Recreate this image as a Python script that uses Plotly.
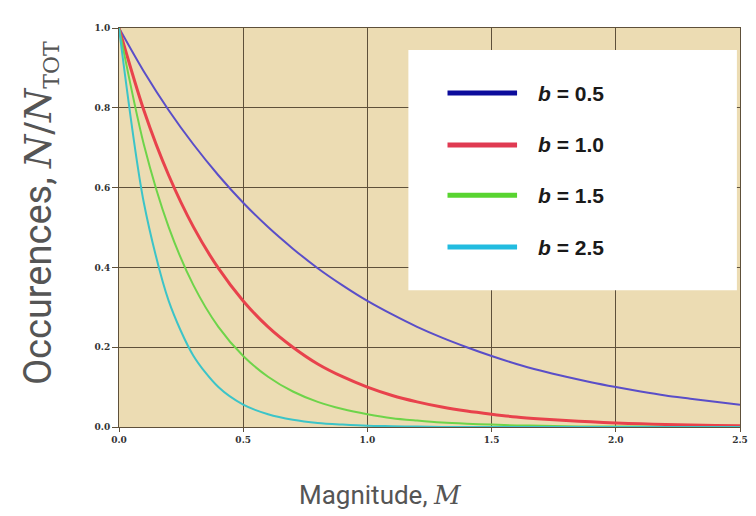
import plotly.graph_objects as go

magnitude = [round(0.1 * k, 1) for k in range(26)]

occ_b05 = [1.000, 0.891, 0.794, 0.708, 0.631, 0.562, 0.501, 0.447, 0.398, 0.355,
           0.316, 0.282, 0.251, 0.224, 0.200, 0.178, 0.158, 0.141, 0.126, 0.112,
           0.100, 0.089, 0.079, 0.071, 0.063, 0.056]
occ_b10 = [1.000, 0.794, 0.631, 0.501, 0.398, 0.316, 0.251, 0.200, 0.158, 0.126,
           0.100, 0.079, 0.063, 0.050, 0.040, 0.032, 0.025, 0.020, 0.016, 0.013,
           0.010, 0.008, 0.006, 0.005, 0.004, 0.003]
occ_b15 = [1.000, 0.708, 0.501, 0.355, 0.251, 0.178, 0.126, 0.089, 0.063, 0.045,
           0.032, 0.022, 0.016, 0.011, 0.008, 0.006, 0.004, 0.003, 0.002, 0.001,
           0.001, 0.001, 0.000, 0.000, 0.000, 0.000]
occ_b25 = [1.000, 0.562, 0.316, 0.178, 0.100, 0.056, 0.032, 0.018, 0.010, 0.006,
           0.003, 0.002, 0.001, 0.000, 0.000, 0.000, 0.000, 0.000, 0.000, 0.000,
           0.000, 0.000, 0.000, 0.000, 0.000, 0.000]

series_labels = ["0.5", "1.0", "1.5", "2.5"]
series_values = [occ_b05, occ_b10, occ_b15, occ_b25]
line_colors = ["#5a4ec8", "#e8424c", "#6ed44a", "#3cc4c8"]
legend_colors = ["#0c0c9c", "#e03a52", "#58d430", "#22bce0"]
line_widths = [2, 3, 2, 2]

x_ticks = [0.0, 0.5, 1.0, 1.5, 2.0, 2.5]
y_ticks = [0.0, 0.2, 0.4, 0.6, 0.8, 1.0]

x_title = "Magnitude, <i><span style='font-family:DejaVu Serif'>M</span></i>"
y_title = ("Occurences, <span style='font-family:DejaVu Serif'><i>N</i>/<i>N</i>"
           "<sub><span style='font-size:22px'>TOT</span></sub></span>")

fig = go.Figure()
for lab, vals, col, w in zip(series_labels, series_values, line_colors, line_widths):
    fig.add_trace(go.Scatter(x=magnitude, y=vals, mode="lines", name="b = " + lab,
                             line=dict(color=col, width=w, shape="spline", smoothing=0.8),
                             showlegend=False))

grid_col = "#5e503a"
tick_font = dict(family="DejaVu Serif", size=9, color="#333333")

fig.update_xaxes(range=[0, 2.5], tickvals=x_ticks, ticktext=[f"<b>{v:.1f}</b>" for v in x_ticks],
                 showgrid=True, gridcolor=grid_col, gridwidth=1.3, zeroline=False,
                 ticks="outside", ticklen=4, tickcolor=grid_col, tickfont=tick_font,
                 showline=True, linecolor=grid_col, mirror=True)
fig.update_yaxes(range=[0, 1.0], tickvals=y_ticks, ticktext=[f"<b>{v:.1f}</b>" for v in y_ticks],
                 showgrid=True, gridcolor=grid_col, gridwidth=1.3, zeroline=False,
                 ticks="outside", ticklen=6, tickcolor=grid_col, tickfont=tick_font,
                 showline=True, linecolor=grid_col, mirror=True)

# legend box drawn manually
shapes = [dict(type="rect", xref="paper", yref="paper", x0=0.466, x1=0.995, y0=0.343, y1=0.945,
               fillcolor="white", line=dict(width=0), layer="above")]
annotations = [
    dict(xref="paper", yref="paper", x=0.421, y=-0.170, xanchor="center", yanchor="middle",
         text=x_title, showarrow=False, font=dict(family="Roboto, sans-serif", size=26, color="#555555")),
    dict(xref="paper", yref="paper", x=-0.128, y=0.535, xanchor="center", yanchor="middle",
         text=y_title, showarrow=False, textangle=-90,
         font=dict(family="Roboto, sans-serif", size=38, color="#555555")),
]
rows_y = [0.837, 0.707, 0.581, 0.451]
for lab, col, yy in zip(series_labels, legend_colors, rows_y):
    shapes.append(dict(type="line", xref="paper", yref="paper", x0=0.529, x1=0.641, y0=yy, y1=yy,
                       line=dict(color=col, width=5), layer="above"))
    annotations.append(dict(xref="paper", yref="paper", x=0.672, y=yy, xanchor="left", yanchor="middle",
                            text=f"<b><i>b</i> = {lab}</b>", showarrow=False,
                            font=dict(family="Liberation Sans, Arial, sans-serif", size=21, color="#1a1a1a")))

fig.update_layout(width=756, height=516, margin=dict(l=119, r=8, t=28, b=89),
                  paper_bgcolor="white", plot_bgcolor="#ecdcb3",
                  shapes=shapes, annotations=annotations, showlegend=False)

fig.write_html("out.html")
